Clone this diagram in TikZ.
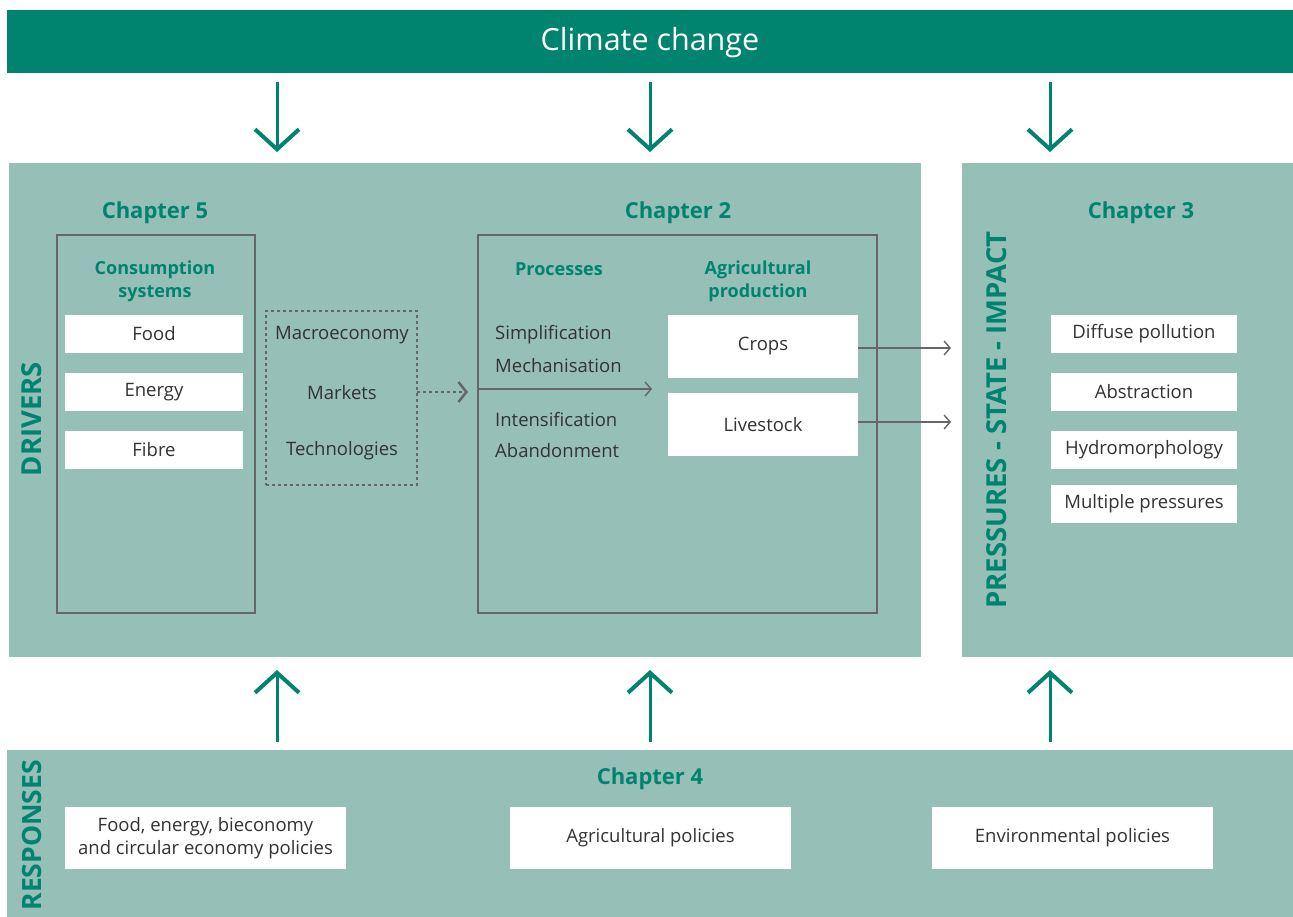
\documentclass[tikz,border=0pt]{standalone}
\usepackage{fontspec}
\setmainfont{Open Sans}
\usetikzlibrary{arrows.meta}
\definecolor{eeagreen}{HTML}{00836F}
\definecolor{eeateal}{HTML}{96BFB8}
\definecolor{eeatext}{HTML}{333333}
\definecolor{eealine}{HTML}{666666}

\tikzset{
  panel/.style={fill=eeateal, anchor=north west, inner sep=0pt, outer sep=0pt},
  frame/.style={draw=eealine, line width=1.5pt, anchor=north west, inner sep=0pt, outer sep=0pt},
  wbox/.style={fill=white, inner sep=0pt, outer sep=0pt, text=eeatext, font=\fontsize{18.5}{23}\selectfont, align=center},
  txt/.style={text=eeatext, inner sep=0pt, font=\fontsize{18.5}{23}\selectfont, align=center},
  chap/.style={text=eeagreen, inner sep=0pt, font=\fontsize{22}{26}\selectfont\bfseries},
  subhead/.style={text=eeagreen, inner sep=0pt, font=\fontsize{18}{23}\selectfont\bfseries, align=center},
  sidelabel/.style={text=eeagreen, inner sep=0pt, rotate=90, font=\fontsize{27.5}{32}\selectfont\bfseries},
  bigarr/.style={draw=eeagreen, line width=3pt, -{Straight Barb[length=20pt,width=44pt,line width=4pt]}},
  thinarr/.style={draw=eealine, line width=1.4pt, -{Straight Barb[length=6pt,width=14pt]}},
  dotarr/.style={draw=eealine, line width=2.8pt, dash pattern=on 3pt off 3pt, -{Straight Barb[length=8pt,width=20pt,line width=2.5pt]}}
}

\begin{document}
\begin{tikzpicture}[x=1pt,y=-1pt]
\useasboundingbox (0,0) rectangle (1293,917);

% climate change bar
\node[panel, fill=eeagreen, minimum width=1286pt, minimum height=63pt] (clim) at (7,10) {};
\node[text=white, font=\fontsize{30.5}{36}\selectfont] (climtxt) at (650,43) {Climate change};

% main panels
\node[panel, minimum width=912pt, minimum height=494pt] (drivers) at (9,163) {};
\node[panel, minimum width=331pt, minimum height=494pt] (psi) at (962,163) {};
\node[panel, minimum width=1286pt, minimum height=167pt] (resp) at (7,750) {};

% arrows from climate change and from responses
\foreach \x in {277,650,1050} {
  \coordinate (ctop\x) at (\x,82);
  \coordinate (cbot\x) at (\x,152);
  \coordinate (rbot\x) at (\x,742);
  \coordinate (rtop\x) at (\x,670);
  \draw[bigarr] (ctop\x) -- (cbot\x);
  \draw[bigarr] (rbot\x) -- (rtop\x);
}

% side labels
\node[sidelabel] (drvlab) at (32,419) {DRIVERS};
\node[sidelabel] (psilab) at (997,420) {PRESSURES - STATE - IMPACT};
\node[sidelabel, anchor=east, font=\fontsize{26.5}{32}\selectfont\bfseries] (resplab) at (32,760) {RESPONSES};

% chapter 5
\node[chap] (ch5) at (155,213) {Chapter 5};
\node[frame, minimum width=198pt, minimum height=378pt] (cons) at (57,235) {};
\node[subhead] (constit) at (155,281) {Consumption\\systems};
\node[wbox, minimum width=178pt, minimum height=38pt] (food) at (154,334) {Food};
\node[wbox, minimum width=178pt, minimum height=38pt] (energy) at (154,392) {Energy};
\node[wbox, minimum width=178pt, minimum height=38pt] (fibre) at (154,450) {Fibre};

% macro drivers
\node[frame, dash pattern=on 3pt off 3pt, line width=2.8pt, minimum width=151pt, minimum height=174pt] (macro) at (266,311) {};
\node[txt] (macroeco) at (342,335) {Macroeconomy};
\node[txt] (markets) at (342,393) {Markets};
\node[txt] (techno) at (342,451) {Technologies};

% chapter 2
\node[chap] (ch2) at (678,213) {Chapter 2};
\node[frame, minimum width=399pt, minimum height=378pt] (agri) at (478,235) {};
\node[subhead] (proctit) at (559,269) {Processes};
\node[subhead] (agrtit) at (758,281) {Agricultural\\production};
\node[txt, anchor=west] (simpl) at (495,335) {Simplification};
\node[txt, anchor=west] (mecha) at (495,366) {Mechanisation};
\node[txt, anchor=west] (inten) at (495,420) {Intensification};
\node[txt, anchor=west] (aband) at (495,451) {Abandonment};
\node[wbox, minimum width=190pt, minimum height=63pt] (crops) at (763,346.5) {Crops};
\node[wbox, minimum width=190pt, minimum height=63pt] (lives) at (763,424.5) {Livestock};

\coordinate (procend) at (652,389);
\draw[thinarr] (agri.west |- procend) -- (procend);
\coordinate (dotend) at (468,392);
\draw[dotarr] (macro.east |- dotend) -- (dotend);

% chapter 3
\node[chap] (ch3) at (1141,213) {Chapter 3};
\node[wbox, minimum width=186pt, minimum height=38pt] (diffuse) at (1144,334) {Diffuse pollution};
\node[wbox, minimum width=186pt, minimum height=38pt] (abstr) at (1144,392) {Abstraction};
\node[wbox, minimum width=186pt, minimum height=38pt] (hydro) at (1144,450) {Hydromorphology};
\node[wbox, minimum width=186pt, minimum height=38pt] (multi) at (1144,504) {Multiple pressures};

\coordinate (cropsend) at (951,348);
\coordinate (livesend) at (951,422);
\draw[thinarr] (crops.east |- cropsend) -- (cropsend);
\draw[thinarr] (lives.east |- livesend) -- (livesend);

% chapter 4
\node[chap] (ch4) at (650,779) {Chapter 4};
\node[wbox, minimum width=281pt, minimum height=62pt] (foodpol) at (205.5,838) {Food, energy, bieconomy\\and circular economy policies};
\node[wbox, minimum width=281pt, minimum height=62pt] (agripol) at (650.5,838) {Agricultural policies};
\node[wbox, minimum width=281pt, minimum height=62pt] (envpol) at (1072.5,838) {Environmental policies};
\end{tikzpicture}
\end{document}
